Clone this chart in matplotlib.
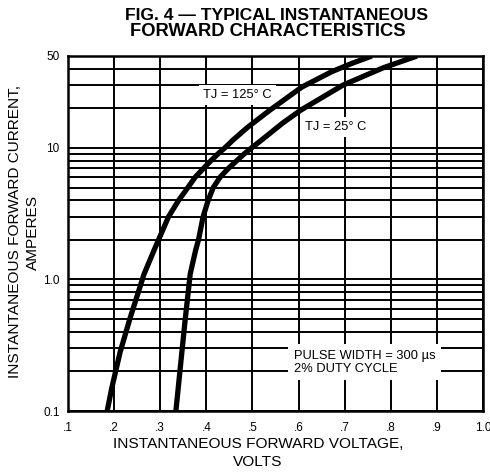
import matplotlib.pyplot as plt
import numpy as np

plt.rcParams['font.family'] = ['Liberation Sans', 'DejaVu Sans']

# forward characteristics (volts, amperes)
i_125 = [0.1, 0.15, 0.28, 0.5, 1.1, 1.68, 3.0, 4.0, 5.0, 6.0, 7.0, 8.0, 9.0, 10, 11.5, 14.4,
         19.4, 29, 38, 44, 50]
v_125 = [0.185, 0.195, 0.213, 0.234, 0.265, 0.287, 0.318, 0.340, 0.360, 0.376, 0.394, 0.41,
         0.425, 0.44, 0.458, 0.49, 0.538, 0.607, 0.672, 0.716, 0.759]
i_25 = [0.1, 0.205, 0.49, 1.1, 1.68, 2.0, 3.0, 4.0, 5.0, 6.0, 7.0, 8.0, 9.0, 10, 11.5, 15.4,
        19.4, 30, 40.6, 50]
v_25 = [0.334, 0.343, 0.354, 0.365, 0.377, 0.383, 0.393, 0.404, 0.415, 0.43, 0.448, 0.466,
        0.482, 0.498, 0.52, 0.565, 0.605, 0.696, 0.783, 0.857]

x_ticks = [0.1, 0.2, 0.3, 0.4, 0.5, 0.6, 0.7, 0.8, 0.9, 1.0]
x_labels = ['.1', '.2', '.3', '.4', '.5', '.6', '.7', '.8', '.9', '1.0']
y_ticks = [0.1, 1.0, 10, 50]
y_labels = ['0.1', '1.0', '10', '50']

fig = plt.figure(figsize=(4.9, 4.73), dpi=100)
ax = fig.add_axes([68/490, 1-411/473, 415/490, 355/473])

ax.set_yscale('log')
ax.set_xlim(0.1, 1.0)
ax.set_ylim(0.1, 50)

# grid: every 0.1 V, and 1-9 in each decade
ax.set_xticks(x_ticks)
ax.set_xticklabels(x_labels, fontsize=8.5)
ax.set_yticks(y_ticks)
ax.set_yticklabels(y_labels, fontsize=8.5)
ax.yaxis.set_minor_locator(plt.matplotlib.ticker.LogLocator(base=10, subs=np.arange(2, 10)))
ax.yaxis.set_minor_formatter(plt.NullFormatter())
ax.tick_params(which='both', length=0)
ax.tick_params(axis='x', pad=8)
ax.tick_params(axis='y', pad=6)
ax.grid(True, which='major', color='black', lw=1.4)
ax.grid(True, which='minor', axis='y', color='black', lw=1.4)
for s in ax.spines.values():
    s.set_linewidth(1.8)

ax.plot(v_125, i_125, color='black', lw=3.8, solid_joinstyle='round', solid_capstyle='butt', zorder=3)
ax.plot(v_25, i_25, color='black', lw=3.8, solid_joinstyle='round', solid_capstyle='butt', zorder=3)

box = dict(facecolor='white', edgecolor='none', pad=3)
ax.text(0.393, 25.3, 'TJ = 125° C', fontsize=9.3, ha='left', va='center', bbox=box, zorder=2)
ax.text(0.614, 14.4, 'TJ = 25° C', fontsize=9.3, ha='left', va='center', bbox=box, zorder=2)
ax.text(0.59, 0.235, 'PULSE WIDTH = 300 µs\n2% DUTY CYCLE', fontsize=9.3, ha='left', va='center',
        linespacing=1.15, bbox=dict(facecolor='white', edgecolor='none', pad=4), zorder=2)

fig.text(277/490, 1-15/473, 'FIG. 4 — TYPICAL INSTANTANEOUS', fontsize=12.6, fontweight='bold',
         ha='center', va='center')
fig.text(268/490, 1-32/473, 'FORWARD CHARACTERISTICS', fontsize=13.2, fontweight='bold',
         ha='center', va='center')
fig.text(258/490, 1-444/473, 'INSTANTANEOUS FORWARD VOLTAGE,', fontsize=11.1, ha='center', va='center')
fig.text(258/490, 1-462/473, 'VOLTS', fontsize=11.1, ha='center', va='center')
fig.text(15/490, 1-232/473, 'INSTANTANEOUS FORWARD CURRENT,', fontsize=11.1, rotation=90,
         ha='center', va='center')
fig.text(33/490, 1-232/473, 'AMPERES', fontsize=11.1, rotation=90, ha='center', va='center')

fig.savefig('out.png', dpi=100)
